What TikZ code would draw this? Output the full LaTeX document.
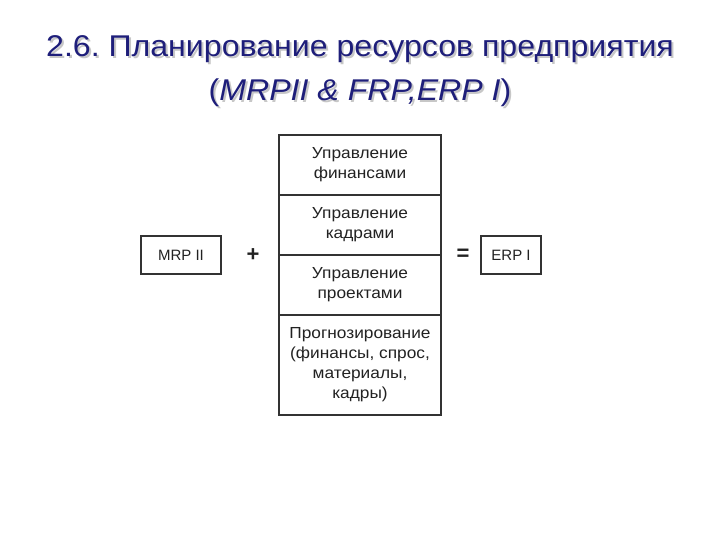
\documentclass[tikz,border=0pt]{standalone}
\usepackage{fontspec}
\setmainfont{Liberation Sans}
\newfontfamily\titlefont[FakeStretch=1.07]{Liberation Sans}
\newfontfamily\boxfont[FakeStretch=1.08]{Liberation Sans}
\frenchspacing
\definecolor{titleblue}{HTML}{1E1E7A}
\definecolor{boxline}{HTML}{333333}
\definecolor{boxtext}{HTML}{222222}
\begin{document}
\begin{tikzpicture}[x=1pt,y=-1pt,
  cell/.style={draw=boxline,line width=1.3pt,minimum width=162pt,inner sep=0pt,align=center,
    text=boxtext,font=\boxfont\fontsize{16}{20}\selectfont},
  sidebox/.style={draw=boxline,line width=1.3pt,minimum height=38pt,inner sep=0pt,align=center,
    text=boxtext,font=\fontsize{15}{20}\selectfont},
  op/.style={text=boxtext,font=\fontsize{22}{22}\selectfont\bfseries,inner sep=0pt},
  ttl/.style={font=\titlefont\fontsize{30}{44}\selectfont,align=center,inner sep=0pt}]
\useasboundingbox (0,0) rectangle (720,540);
\fill[white] (0,0) rectangle (720,540);
% title shadow and text
\node[ttl,text=black!22] (titleshadow) at (362,73) {2.6. Планирование ресурсов предприятия\\(\textit{MRPII \& FRP,ERP I})};
\node[ttl,text=titleblue] (title) at (360,71) {2.6. Планирование ресурсов предприятия\\(\textit{MRPII \& FRP,ERP I})};
% column
\node[cell,minimum height=60pt] (c1) at (360,165) {Управление\\финансами};
\node[cell,minimum height=60pt] (c2) at (360,225) {Управление\\кадрами};
\node[cell,minimum height=60pt] (c3) at (360,285) {Управление\\проектами};
\node[cell,minimum height=100pt] (c4) at (360,365) {Прогнозирование\\(финансы, спрос,\\материалы,\\кадры)};
\node[sidebox,minimum width=80pt] (mrp) at (181,255) {MRP II};
\node[sidebox,minimum width=60pt] (erp) at (511,255) {ERP I};
\node[op] (plus) at (253,255) {+};
\node[op] (eq) at (463,255) {=};
\end{tikzpicture}
\end{document}
